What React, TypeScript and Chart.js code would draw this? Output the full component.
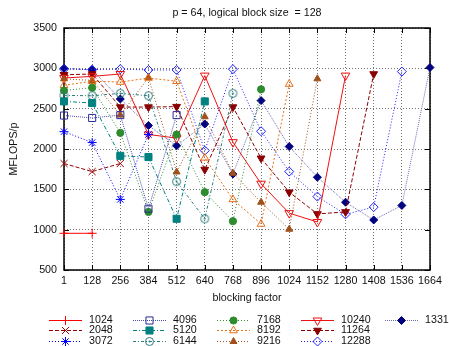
import React, { useEffect, useRef } from 'react';
import { Chart, registerables } from 'chart.js';
import { drawPoint } from 'chart.js/helpers';

Chart.register(...registerables);

const xLabels = ['1', '128', '256', '384', '512', '640', '768', '896', '1024', '1152', '1280', '1408', '1536', '1664'];
const yTicks = [500, 1000, 1500, 2000, 2500, 3000, 3500];
const seriesNames = ['1024', '2048', '3072', '4096', '5120', '6144', '7168', '8192', '9216', '10240', '11264', '12288', '13312'];

const s1024 = [955, 955];
const s2048 = [1820, 1720, 1820];
const s3072 = [2215, 2080, 1375, 2180];
const s4096 = [2415, 2385, 2420, 1260, 2420];
const s5120 = [2590, 2570, 1915, 1900, 1135, 2590];
const s6144 = [2665, 2660, 2690, 2660, 1595, 1135, 2690];
const s7168 = [2725, 2760, 2200, 1220, 2180, 1465, 1105, 2740];
const s8192 = [2790, 2840, 2830, 2880, 2840, 1890, 1375, 1070, 2805];
const s9216 = [2870, 2850, 2420, 2885, 1715, 2400, 1700, 1340, 1005, 2870];
const s10240 = [2880, 2900, 2930, 2180, 2135, 2910, 2085, 1570, 1205, 1095, 2910];
const s11264 = [2920, 2930, 2520, 2520, 2525, 1745, 2520, 1885, 1465, 1195, 1220, 2930];
const s12288 = [2990, 2985, 2990, 2980, 2980, 1980, 2990, 2220, 1720, 1410, 1190, 1280, 2960];
const s13312 = [3000, 2980, 2620, 2290, 2040, 2310, 1690, 2600, 2030, 1650, 1340, 1120, 1300, 3010];

const seriesValues = [s1024, s2048, s3072, s4096, s5120, s6144, s7168, s8192, s9216, s10240, s11264, s12288, s13312];

const FONT = '"Liberation Sans", Arial, Helvetica, sans-serif';
const FS = 10.7;

export default function App() {
  const ref = useRef<HTMLCanvasElement>(null);

  useEffect(() => {
    const canvas = ref.current;
    if (!canvas) return;

    const odot = document.createElement('canvas');
    odot.width = 11;
    odot.height = 11;
    const oc = odot.getContext('2d')!;
    oc.strokeStyle = '#2a7a7a';
    oc.lineWidth = 1;
    oc.beginPath();
    oc.arc(5.5, 5.5, 4, 0, Math.PI * 2);
    oc.stroke();
    oc.fillStyle = '#2a7a7a';
    oc.beginPath();
    oc.arc(5.5, 5.5, 1, 0, Math.PI * 2);
    oc.fill();

    const styles: any[] = [
      { color: '#ff0000', line: '#ff0000', dash: [], ps: 'cross', r: 4.5, fill: false, rot: 0 },
      { color: '#990000', line: '#990000', dash: [4, 2], ps: 'crossRot', r: 5, fill: false, rot: 0 },
      { color: '#0000ff', line: '#0000ff', dash: [1, 2], ps: 'star', r: 4.5, fill: false, rot: 0 },
      { color: '#2a2a9a', line: '#4a4ab0', dash: [1, 1], ps: 'rect', r: 5, fill: false, rot: 0 },
      { color: '#008080', line: '#008080', dash: [4, 2, 1, 2], ps: 'rect', r: 5, fill: true, rot: 0 },
      { color: '#2a7a7a', line: '#2a7a7a', dash: [3, 2, 1, 2], ps: odot, r: 4, fill: false, rot: 0 },
      { color: '#2e8b2e', line: '#2e8b2e', dash: [1, 2], ps: 'circle', r: 3.6, fill: true, rot: 0 },
      { color: '#e8701a', line: '#e8701a', dash: [2, 2], ps: 'triangle', r: 4.5, fill: false, rot: 0 },
      { color: '#a0501a', line: '#a0501a', dash: [1, 2], ps: 'triangle', r: 4, fill: true, rot: 0 },
      { color: '#ee1111', line: '#ee1111', dash: [], ps: 'triangle', r: 5, fill: false, rot: 180 },
      { color: '#8b0000', line: '#8b0000', dash: [4, 2], ps: 'triangle', r: 4.5, fill: true, rot: 180 },
      { color: '#2020ff', line: '#2020ff', dash: [1, 2], ps: 'rectRot', r: 4.5, fill: false, rot: 0 },
      { color: '#000080', line: '#6a6ab8', dash: [1, 1], ps: 'rectRot', r: 4, fill: true, rot: 0 },
    ];

    const datasets = seriesValues.map((v, i) => {
      const st = styles[i];
      return {
        label: seriesNames[i],
        data: v,
        borderColor: st.line,
        backgroundColor: st.color,
        borderWidth: 1,
        borderDash: st.dash,
        pointStyle: st.ps,
        pointRadius: st.r,
        pointRotation: st.rot,
        pointBorderColor: st.color,
        pointBackgroundColor: st.fill ? st.color : 'rgba(0,0,0,0)',
        pointBorderWidth: 1,
        clip: false as any,
        tension: 0,
        fill: false,
      };
    });

    const framePlugin = {
      id: 'frame',
      beforeDatasetsDraw(chart: any) {
        const { ctx, chartArea: a } = chart;
        const xs = chart.scales.x;
        const ys = chart.scales.y;
        ctx.save();
        ctx.strokeStyle = '#000';
        ctx.lineWidth = 1;
        ctx.setLineDash([]);
        ctx.beginPath();
        for (let i = 0; i < xLabels.length; i++) {
          const px = Math.round(xs.getPixelForTick(i)) + 0.5;
          ctx.moveTo(px, a.bottom);
          ctx.lineTo(px, a.bottom - 5);
          ctx.moveTo(px, a.top);
          ctx.lineTo(px, a.top + 5);
        }
        yTicks.forEach((t) => {
          const py = Math.round(ys.getPixelForValue(t)) + 0.5;
          ctx.moveTo(a.left, py);
          ctx.lineTo(a.left + 5, py);
          ctx.moveTo(a.right, py);
          ctx.lineTo(a.right - 5, py);
        });
        ctx.stroke();
        ctx.lineWidth = 1.5;
        ctx.strokeRect(a.left, a.top, a.right - a.left, a.bottom - a.top);
        ctx.restore();
      },
      afterDraw(chart: any) {
        const { ctx, chartArea: a } = chart;
        ctx.save();
        ctx.fillStyle = '#111';
        ctx.font = `${FS}px ${FONT}`;
        ctx.textAlign = 'center';
        ctx.textBaseline = 'middle';
        ctx.fillText('p = 64, logical block size  = 128', (a.left + a.right) / 2, 13);
        ctx.fillText('blocking factor', (a.left + a.right) / 2, 298);
        ctx.save();
        ctx.translate(14, (a.top + a.bottom) / 2);
        ctx.rotate(-Math.PI / 2);
        ctx.fillText('MFLOPS/p', 0, 0);
        ctx.restore();

        ctx.textAlign = 'left';
        styles.forEach((st, i) => {
          const col = Math.floor(i / 3);
          const row = i % 3;
          const x0 = 49 + col * 84;
          const y = Math.round(320 + row * 10.4) + 0.5;
          ctx.strokeStyle = st.line;
          ctx.lineWidth = 1;
          ctx.setLineDash(st.dash);
          ctx.beginPath();
          ctx.moveTo(x0, y);
          ctx.lineTo(x0 + 33, y);
          ctx.stroke();
          ctx.setLineDash([]);
          ctx.strokeStyle = st.color;
          ctx.fillStyle = st.fill ? st.color : 'rgba(0,0,0,0)';
          drawPoint(ctx, { pointStyle: st.ps, radius: st.r, rotation: st.rot, borderWidth: 1 } as any, x0 + 16.5, y);
          ctx.fillStyle = '#111';
          ctx.fillText(seriesNames[i], x0 + 40, y);
        });
        ctx.restore();
      },
    };

    const chart = new Chart(canvas, {
      type: 'line',
      data: { labels: xLabels, datasets: datasets as any },
      options: {
        animation: false,
        responsive: false,
        events: [],
        layout: { padding: { left: 0, right: 19, top: 28, bottom: 0 } },
        plugins: {
          legend: { display: false },
          title: { display: false },
          tooltip: { enabled: false },
        },
        scales: {
          x: {
            type: 'category',
            offset: false,
            grid: { color: 'rgba(0,0,0,0.55)', lineWidth: 1, drawTicks: false },
            border: { display: false, dash: [1, 2] },
            ticks: {
              autoSkip: false,
              maxRotation: 0,
              minRotation: 0,
              padding: 5,
              color: '#111',
              font: { family: FONT, size: FS },
            },
            afterFit: (s: any) => {
              s.height = 76;
            },
          },
          y: {
            min: 500,
            max: 3500,
            grid: { color: 'rgba(0,0,0,0.55)', lineWidth: 1, drawTicks: false },
            border: { display: false, dash: [1, 2] },
            ticks: {
              stepSize: 500,
              padding: 7,
              color: '#111',
              font: { family: FONT, size: FS },
              callback: (v: any) => String(v),
            },
            afterFit: (s: any) => {
              s.width = 64;
            },
          },
        },
      },
      plugins: [framePlugin],
    });

    return () => chart.destroy();
  }, []);

  return (
    <div style={{ position: 'fixed', left: 0, top: 0, width: 449, height: 346, background: '#fff' }}>
      <canvas ref={ref} width={449} height={346} style={{ display: 'block', width: 449, height: 346 }} />
    </div>
  );
}
